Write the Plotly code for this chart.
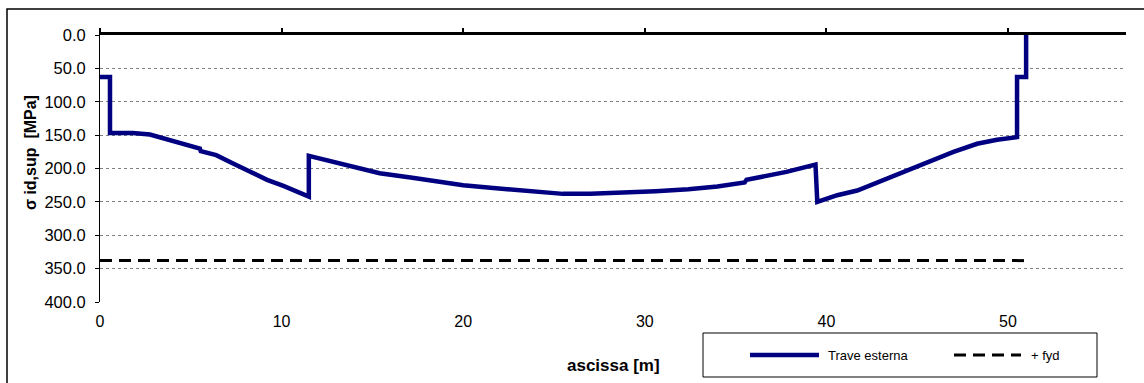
import plotly.graph_objects as go

# Trave esterna: sigma id,sup [MPa] vs ascissa [m]
x_trave = [0.0, 0.55, 0.55, 1.8, 2.75, 3.7, 4.6, 5.5, 5.55, 6.4, 7.3, 8.3, 9.2, 10.1, 11.5,
           11.5, 12.8, 14.0, 15.4, 17.2, 19.0, 20.0, 21.5, 22.8, 24.0, 25.5, 27.0, 28.5,
           30.5, 30.6, 32.4, 34.0, 35.5, 35.6, 37.8, 39.4,
           39.5, 40.6, 41.7, 43.5, 45.5, 45.8, 47.0, 48.3, 49.4, 50.5,
           50.5, 51.0, 51.0]
y_trave = [63, 63, 147, 147, 149, 156, 163, 170, 174, 180, 192, 205, 217, 226, 242,
           181, 190, 199, 207, 214, 221, 225, 229, 232, 235, 238, 238, 237,
           235, 234, 231, 227, 221, 217, 205, 194,
           250, 240, 233, 213, 192, 187, 175, 163, 157, 153,
           63, 63, 0]

# + fyd
x_fyd = [0.0, 51.0]
y_fyd = [338, 338]

x_ticks = [0, 10, 20, 30, 40, 50]
y_ticks = [0, 50, 100, 150, 200, 250, 300, 350, 400]
series_names = ["Trave esterna", "+ fyd"]

FONT = "Liberation Sans, Arial, sans-serif"
W, H = 1144, 383
L, R, T, B = 100, 18, 35, 81
PW, PH = W - L - R, H - T - B


def px(xp):
    return (xp - L) / PW


def py(yp):
    return (H - B - yp) / PH


NAVY = "#000080"

fig = go.Figure()
fig.add_trace(go.Scatter(x=x_trave, y=y_trave, mode="lines", name=series_names[0],
                         line=dict(color=NAVY, width=4.5), showlegend=False))
fig.add_trace(go.Scatter(x=x_fyd, y=y_fyd, mode="lines", name=series_names[1],
                         line=dict(color="black", width=3, dash="12px,7px"), showlegend=False))
# invisible trace to activate the top axis
fig.add_trace(go.Scatter(x=[0, 56.5], y=[0, 0], xaxis="x2", mode="lines",
                         line=dict(width=0), showlegend=False, hoverinfo="skip"))

shapes = [
    # outer chart border
    dict(type="rect", xref="paper", yref="paper", layer="below",
         x0=px(7), x1=px(1160), y0=py(400), y1=py(9),
         line=dict(color="black", width=1.5), fillcolor="rgba(0,0,0,0)"),
    # legend box
    dict(type="rect", xref="paper", yref="paper",
         x0=px(703), x1=px(1097), y0=py(377), y1=py(333),
         line=dict(color="black", width=1), fillcolor="white"),
    dict(type="line", xref="paper", yref="paper",
         x0=px(750), x1=px(819), y0=py(355), y1=py(355),
         line=dict(color=NAVY, width=4.5)),
    dict(type="line", xref="paper", yref="paper",
         x0=px(954), x1=px(1021), y0=py(355), y1=py(355),
         line=dict(color="black", width=3, dash="12px,7px")),
]

annotations = [
    dict(text="<b>ascissa [m]</b>", xref="paper", yref="paper", x=0.5, y=py(365),
         xanchor="center", yanchor="middle", showarrow=False, font=dict(size=17)),
    dict(text="<b>σ id,sup  [MPa]</b>", xref="paper", yref="paper", x=px(30), y=py(153),
         xanchor="center", yanchor="middle", showarrow=False, textangle=-90,
         font=dict(size=16)),
    dict(text=series_names[0], xref="paper", yref="paper", x=px(826), y=py(355),
         xanchor="left", yanchor="middle", showarrow=False, font=dict(size=13)),
    dict(text=series_names[1], xref="paper", yref="paper", x=px(1029), y=py(355),
         xanchor="left", yanchor="middle", showarrow=False, font=dict(size=13)),
]

fig.update_layout(
    width=W, height=H,
    margin=dict(l=L, r=R, t=T, b=B),
    paper_bgcolor="white", plot_bgcolor="white",
    font=dict(family=FONT, size=16, color="black"),
    showlegend=False,
    xaxis=dict(range=[0, 56.5], tickvals=x_ticks, ticktext=[str(v) for v in x_ticks],
               showgrid=False, zeroline=False, showline=False, ticks="",
               tickfont=dict(size=16), ticklabelstandoff=8),
    xaxis2=dict(range=[0, 56.5], overlaying="x", side="top", anchor="y",
                tickvals=x_ticks, showticklabels=False, showgrid=False, zeroline=False,
                showline=True, linecolor="black", linewidth=3,
                ticks="outside", ticklen=4, tickwidth=2, tickcolor="black"),
    yaxis=dict(range=[400, 0], tickvals=y_ticks, ticktext=[f"{v:.1f}" for v in y_ticks],
               showgrid=True, gridcolor="#808080", griddash="dot", gridwidth=1,
               zeroline=False, showline=True, linecolor="black", linewidth=1,
               ticks="outside", ticklen=4, tickcolor="black",
               tickfont=dict(size=16.5), ticklabelstandoff=6),
    shapes=shapes,
    annotations=annotations,
)

fig.write_html("out.html")
